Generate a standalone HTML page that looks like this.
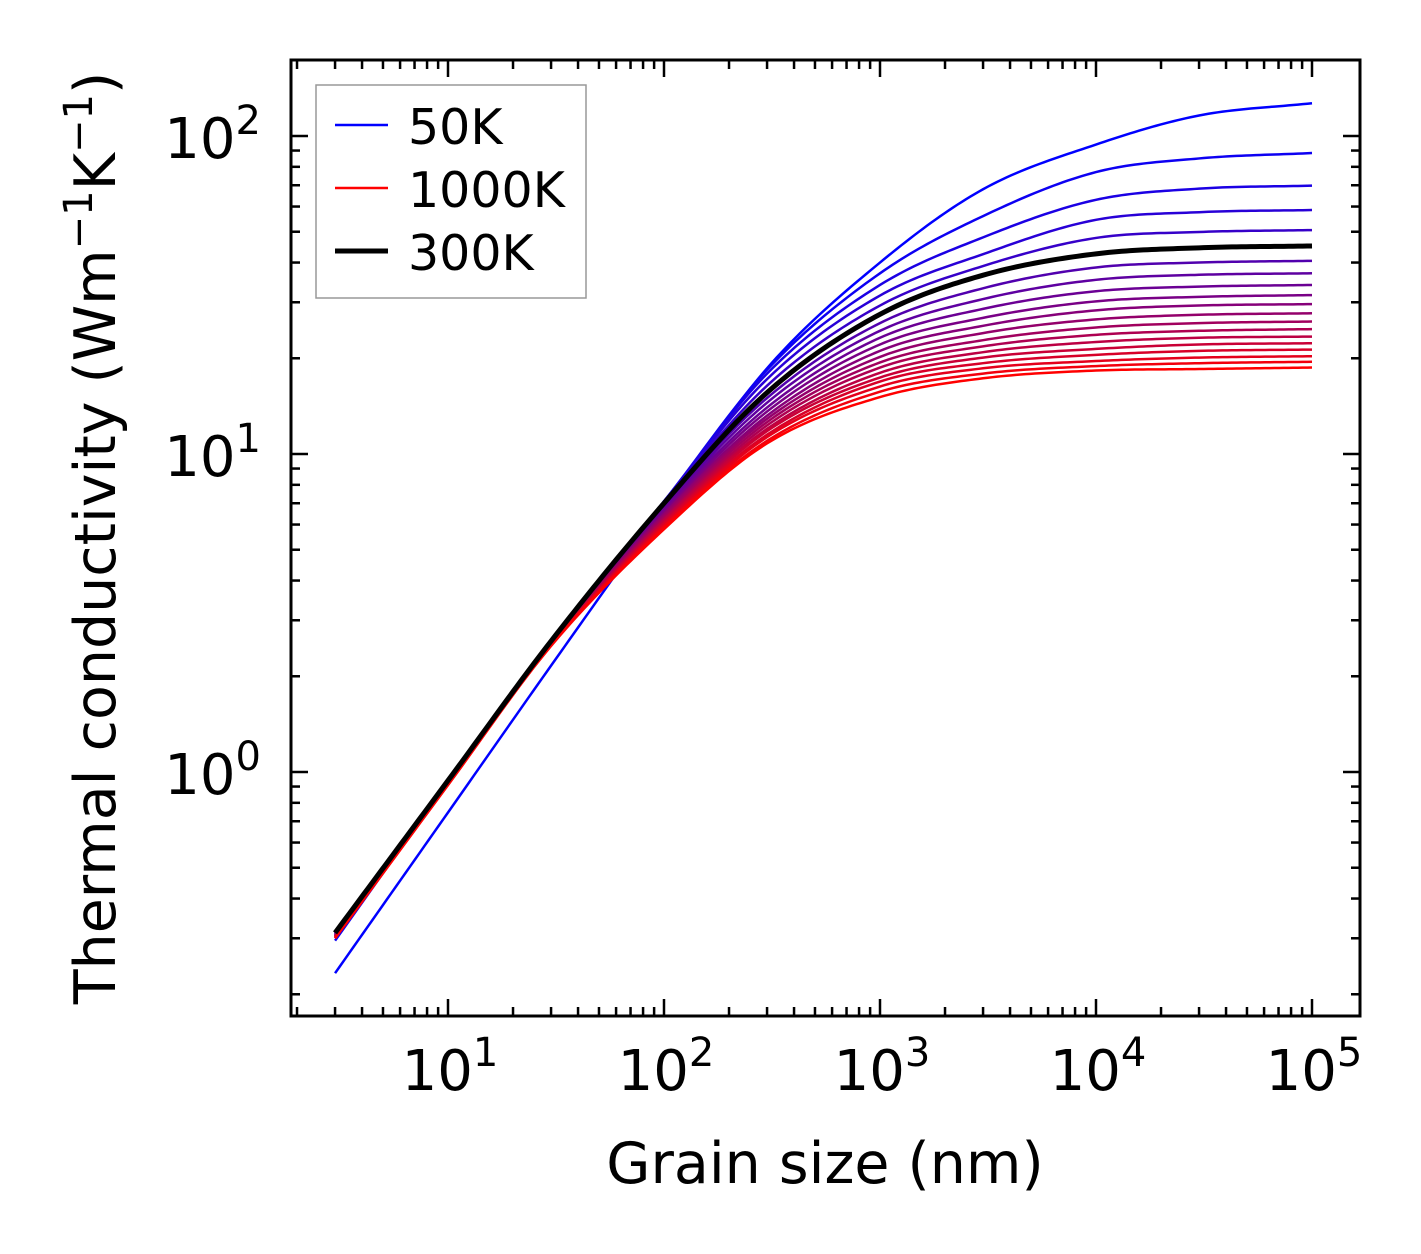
<!DOCTYPE html>
<html><head><meta charset="utf-8"><style>
html,body{margin:0;padding:0;background:#fff;}
svg{display:block;}
text{font-family:"DejaVu Sans","Liberation Sans",sans-serif;fill:#000;}
</style></head><body>
<svg id="chart" width="1421" height="1254" viewBox="0 0 1421 1254" xmlns="http://www.w3.org/2000/svg">
<g id="curves"></g>
<g id="axes"></g>
<text x="825" y="1183" font-size="57" text-anchor="middle">Grain size (nm)</text>
<text transform="translate(115,538) rotate(-90)" font-size="57" text-anchor="middle">Thermal conductivity (Wm<tspan font-size="40" dy="-23">−1</tspan><tspan dy="23">K</tspan><tspan font-size="40" dy="-23">−1</tspan><tspan dy="23">)</tspan></text>
<g>
<rect x="316" y="85" width="270" height="213" fill="#fff" stroke="#999" stroke-width="1.5"/>
<g><line x1="335" y1="125" x2="388" y2="125" stroke="#0000ff" stroke-width="2.5"/><text x="408" y="144" font-size="49">50K</text></g>
<g><line x1="335" y1="188" x2="388" y2="188" stroke="#ff0000" stroke-width="2.5"/><text x="408" y="207" font-size="49">1000K</text></g>
<g><line x1="335" y1="251" x2="388" y2="251" stroke="#000" stroke-width="5"/><text x="408" y="270" font-size="49">300K</text></g>
</g>
</svg>
<script>
const grainSizes = [3, 10, 30, 100, 300, 1000, 3000, 10000, 30000, 100000];
const temperatures = [50,100,150,200,250,300,350,400,450,500,550,600,650,700,750,800,850,900,950,1000];
const k50 = [0.233,0.746,2.16,6.8,18.6,40,68,94,116,126.8];
const k100 = [0.295,0.93,2.6,7.1,18.4,37,56,77,85,88.4];
const k150 = [0.30,0.94,2.6,7.1,17.9,34,48,63,68.3,69.8];
const k200 = [0.305,0.94,2.59,7.1,17.2,31.5,42.5,54.5,57.6,58.5];
const k250 = [0.31,0.94,2.58,7.05,16.4,29.3,39,47.8,49.9,50.6];
const k300 = [0.312,0.94,2.58,7.0,15.6,27.5,36.5,42.6,44.5,45.1];
const k350 = [0.31,0.94,2.57,6.9,15.0,25.8,33.2,38.6,40.0,40.5];
const k400 = [0.31,0.935,2.56,6.8,14.5,24.4,30.7,35.3,36.6,37];
const k450 = [0.308,0.93,2.55,6.7,14.0,23.2,28.6,32.5,33.6,34];
const k500 = [0.307,0.93,2.55,6.6,13.6,22.1,26.8,30.2,31.2,31.6];
const k550 = [0.306,0.93,2.54,6.5,13.2,21.1,25.3,28.3,29.3,29.6];
const k600 = [0.305,0.925,2.53,6.45,12.9,20.2,24.0,26.5,27.4,27.7];
const k650 = [0.305,0.925,2.53,6.35,12.6,19.4,22.8,25.0,25.8,26.1];
const k700 = [0.304,0.92,2.52,6.25,12.3,18.7,21.8,23.7,24.4,24.7];
const k750 = [0.303,0.92,2.52,6.2,12.0,18.0,20.9,22.5,23.2,23.4];
const k800 = [0.302,0.92,2.51,6.1,11.8,17.4,20.1,21.4,22.1,22.3];
const k850 = [0.302,0.915,2.51,6.05,11.5,16.9,19.3,20.5,21.1,21.3];
const k900 = [0.301,0.915,2.5,5.95,11.3,16.3,18.6,19.6,20.1,20.3];
const k950 = [0.30,0.91,2.5,5.9,11.0,15.7,17.9,18.9,19.3,19.5];
const k1000 = [0.30,0.91,2.49,5.8,10.8,15.1,17.3,18.3,18.5,18.7];
const seriesValues = [k50,k100,k150,k200,k250,k300,k350,k400,k450,k500,k550,k600,k650,k700,k750,k800,k850,k900,k950,k1000];
const xTickLabels = ["1","2","3","4","5"];
const yTickLabels = ["0","1","2"];

const NS = "http://www.w3.org/2000/svg";
const L = 291, R = 1360, T = 60, B = 1016;
const xDec = 216, yDec = 318;
function xScale(v){ return 448 + (Math.log10(v) - 1) * xDec; }
function yScale(v){ return 772 - Math.log10(v) * yDec; }

function curvePath(xs, ys){
  const px = xs.map(v => Math.log10(v)), py = ys.map(v => Math.log10(v));
  const nP = px.length;
  const d = [], m = new Array(nP);
  for (let i = 0; i < nP - 1; i++) d.push((py[i+1]-py[i])/(px[i+1]-px[i]));
  m[0] = d[0]; m[nP-1] = d[nP-2];
  for (let i = 1; i < nP - 1; i++) m[i] = (d[i-1]*d[i] <= 0) ? 0 : (d[i-1]+d[i])/2;
  for (let i = 0; i < nP - 1; i++) {
    if (d[i] === 0) { m[i] = 0; m[i+1] = 0; continue; }
    const a = m[i]/d[i], b = m[i+1]/d[i], s = a*a + b*b;
    if (s > 9) { const tt = 3/Math.sqrt(s); m[i] = tt*a*d[i]; m[i+1] = tt*b*d[i]; }
  }
  const pts = [];
  for (let i = 0; i < nP - 1; i++) {
    const h = px[i+1]-px[i];
    for (let s = 0; s < 24; s++) {
      const t = s/24, t2 = t*t, t3 = t2*t;
      const ly = (2*t3-3*t2+1)*py[i] + (t3-2*t2+t)*h*m[i] + (-2*t3+3*t2)*py[i+1] + (t3-t2)*h*m[i+1];
      const lx = px[i] + t*h;
      pts.push([448 + (lx-1)*xDec, 772 - ly*yDec]);
    }
  }
  pts.push([xScale(xs[nP-1]), yScale(ys[nP-1])]);
  return "M" + pts.map(p => p[0].toFixed(2) + "," + p[1].toFixed(2)).join("L");
}

const curves = document.getElementById("curves");
const n = seriesValues.length;
for (let i = 0; i < n; i++) {
  if (temperatures[i] === 300) continue;
  const t = i / (n - 1);
  const p = document.createElementNS(NS, "path");
  p.setAttribute("d", curvePath(grainSizes, seriesValues[i]));
  p.setAttribute("fill", "none");
  p.setAttribute("stroke", "rgb(" + Math.round(255*t) + ",0," + Math.round(255*(1-t)) + ")");
  p.setAttribute("stroke-width", "2.5");
  
  
  curves.appendChild(p);
}
{
  const i = temperatures.indexOf(300);
  const p = document.createElementNS(NS, "path");
  p.setAttribute("d", curvePath(grainSizes, seriesValues[i]));
  p.setAttribute("fill", "none");
  p.setAttribute("stroke", "#000");
  p.setAttribute("stroke-width", "5");
  
  
  curves.appendChild(p);
}

const axes = document.getElementById("axes");
function line(x1,y1,x2,y2,w,name){
  const l = document.createElementNS(NS, "line");
  l.setAttribute("x1",x1); l.setAttribute("y1",y1); l.setAttribute("x2",x2); l.setAttribute("y2",y2);
  l.setAttribute("stroke","#000"); l.setAttribute("stroke-width",w);
  
  
  axes.appendChild(l);
}
for (let e = 0; e <= 5; e++) {
  for (let mm = 1; mm <= 9; mm++) {
    const x = xScale(mm * Math.pow(10, e));
    if (x < L + 1 || x > R - 1) continue;
    const len = mm === 1 ? 17 : 9;
    line(x, B, x, B - len, 2.5, 'x-tick');
    line(x, T, x, T + len, 2.5, 'x-tick-top');
  }
}
for (let e = -1; e <= 2; e++) {
  for (let mm = 1; mm <= 9; mm++) {
    const y = yScale(mm * Math.pow(10, e));
    if (y < T + 1 || y > B - 1) continue;
    const len = mm === 1 ? 17 : 9;
    line(L, y, L + len, y, 2.5, 'y-tick');
    line(R, y, R - len, y, 2.5, 'y-tick-right');
  }
}
const fr = document.createElementNS(NS, "rect");
fr.setAttribute("x", L); fr.setAttribute("y", T); fr.setAttribute("width", R - L); fr.setAttribute("height", B - T);
fr.setAttribute("fill","none"); fr.setAttribute("stroke","#000"); fr.setAttribute("stroke-width","3");


axes.appendChild(fr);
xTickLabels.forEach(lbl => {
  const x = xScale(Math.pow(10, +lbl));
  const t = document.createElementNS(NS, "text");
  t.setAttribute("x", x + 2); t.setAttribute("y", 1090);
  t.setAttribute("font-size", "56"); t.setAttribute("text-anchor", "middle");
  t.innerHTML = '10<tspan font-size="40" dy="-24">' + lbl + '</tspan>';
  
  
  axes.appendChild(t);
});
yTickLabels.forEach(lbl => {
  const y = yScale(Math.pow(10, +lbl));
  const t = document.createElementNS(NS, "text");
  t.setAttribute("x", 261); t.setAttribute("y", y + 22);
  t.setAttribute("font-size", "56"); t.setAttribute("text-anchor", "end");
  t.innerHTML = '10<tspan font-size="40" dy="-24">' + lbl + '</tspan>';
  
  
  axes.appendChild(t);
});
</script>
</body></html>
